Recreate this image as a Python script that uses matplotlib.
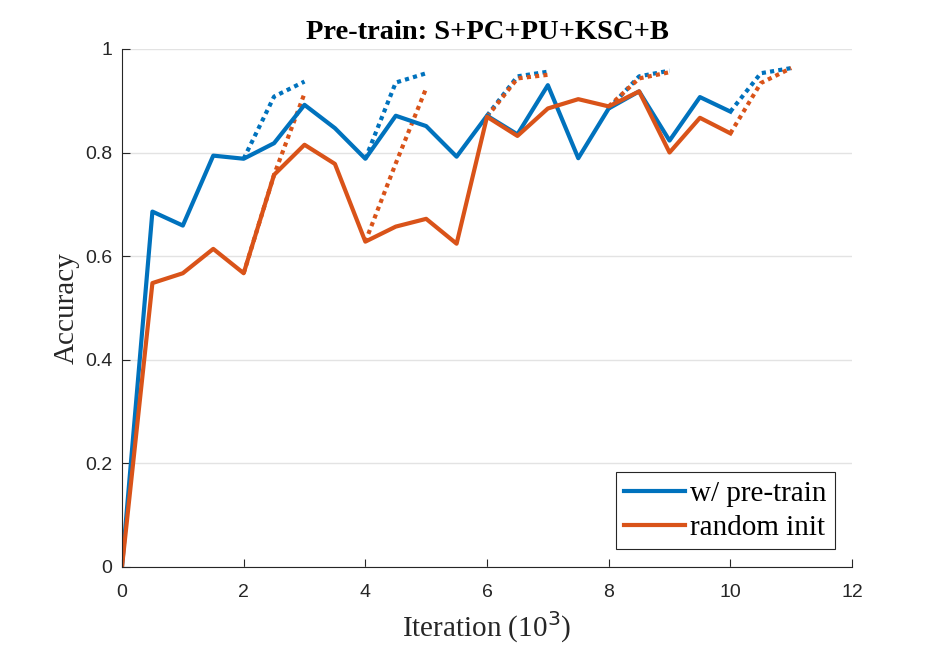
import numpy as np
import matplotlib.pyplot as plt

# iterations (in thousands)
iters = [0, 0.5, 1, 1.5, 2, 2.5, 3, 3.5, 4, 4.5, 5, 5.5, 6, 6.5, 7, 7.5, 8, 8.5, 9, 9.5, 10]

pretrain = [0.0, 0.686, 0.659, 0.794, 0.788, 0.818, 0.892, 0.847, 0.788, 0.871, 0.851,
            0.792, 0.871, 0.835, 0.930, 0.789, 0.885, 0.918, 0.823, 0.907, 0.879]
random_init = [0.0, 0.548, 0.567, 0.614, 0.567, 0.757, 0.815, 0.778, 0.628, 0.657, 0.672,
               0.624, 0.869, 0.832, 0.885, 0.903, 0.889, 0.918, 0.800, 0.867, 0.837]

# dotted branches: (start iteration, values at start, +0.5, +1.0)
branch_starts = [2, 4, 6, 8, 10]
pretrain_branches = [[0.788, 0.908, 0.937],
                     [0.788, 0.935, 0.953],
                     [0.871, 0.947, 0.956],
                     [0.885, 0.947, 0.958],
                     [0.879, 0.953, 0.963]]
random_branches = [[0.567, 0.757, 0.914],
                   [0.628, 0.779, 0.924],
                   [0.869, 0.943, 0.950],
                   [0.889, 0.943, 0.955],
                   [0.837, 0.934, 0.963]]

blue = "#0072BD"
orange = "#D95319"
axcol = "#262626"

plt.rcParams['font.family'] = ['Liberation Sans', 'DejaVu Sans']
plt.rcParams['xtick.direction'] = 'in'
plt.rcParams['ytick.direction'] = 'in'

fig = plt.figure(figsize=(9.42, 6.46), dpi=100)
ax = fig.add_axes([0.1295, 0.1223, 0.775, 0.802])

for s, b in zip(branch_starts, pretrain_branches):
    ax.plot([s, s + 0.5, s + 1], b, color=blue, lw=3, linestyle=(0, (1, 1)))
for s, b in zip(branch_starts, random_branches):
    ax.plot([s, s + 0.5, s + 1], b, color=orange, lw=3, linestyle=(0, (1, 1)))

ax.plot(iters, pretrain, color=blue, lw=3, label="w/ pre-train")
ax.plot(iters, random_init, color=orange, lw=3, label="random init")

ax.set_xlim(0, 12)
ax.set_ylim(0, 1)
ax.set_xticks(range(0, 13, 2))
ax.set_yticks([0, 0.2, 0.4, 0.6, 0.8, 1])
ax.set_yticklabels(["0", "0.2", "0.4", "0.6", "0.8", "1"])
ax.tick_params(labelsize=14, colors=axcol, length=5.5, width=0.8)
ax.tick_params(axis='x', pad=12)
ax.tick_params(axis='y', pad=7)
ax.yaxis.grid(True, color="#e3e3e3", lw=1)
ax.set_axisbelow(True)
for side in ["top", "right"]:
    ax.spines[side].set_visible(False)
for side in ["left", "bottom"]:
    ax.spines[side].set_color(axcol)
    ax.spines[side].set_linewidth(0.8)

serif = ['Liberation Serif', 'DejaVu Serif']
ax.set_xlabel(r"Iteration (10$^3$)", family=serif, fontsize=21, color=axcol, labelpad=6)
ax.set_ylabel("Accuracy", family=serif, fontsize=21, color=axcol, labelpad=4)
ax.set_title("Pre-train: S+PC+PU+KSC+B", family=serif, fontsize=20.5, fontweight='bold', pad=7)

leg = ax.legend(loc="lower right", prop={'family': serif, 'size': 21}, fancybox=False,
                framealpha=1, edgecolor=axcol, handlelength=2.1, borderaxespad=0.6,
                labelspacing=0.28, handletextpad=0.15, borderpad=0.28)
leg.get_frame().set_linewidth(0.8)

fig.savefig("out.png", dpi=100)
